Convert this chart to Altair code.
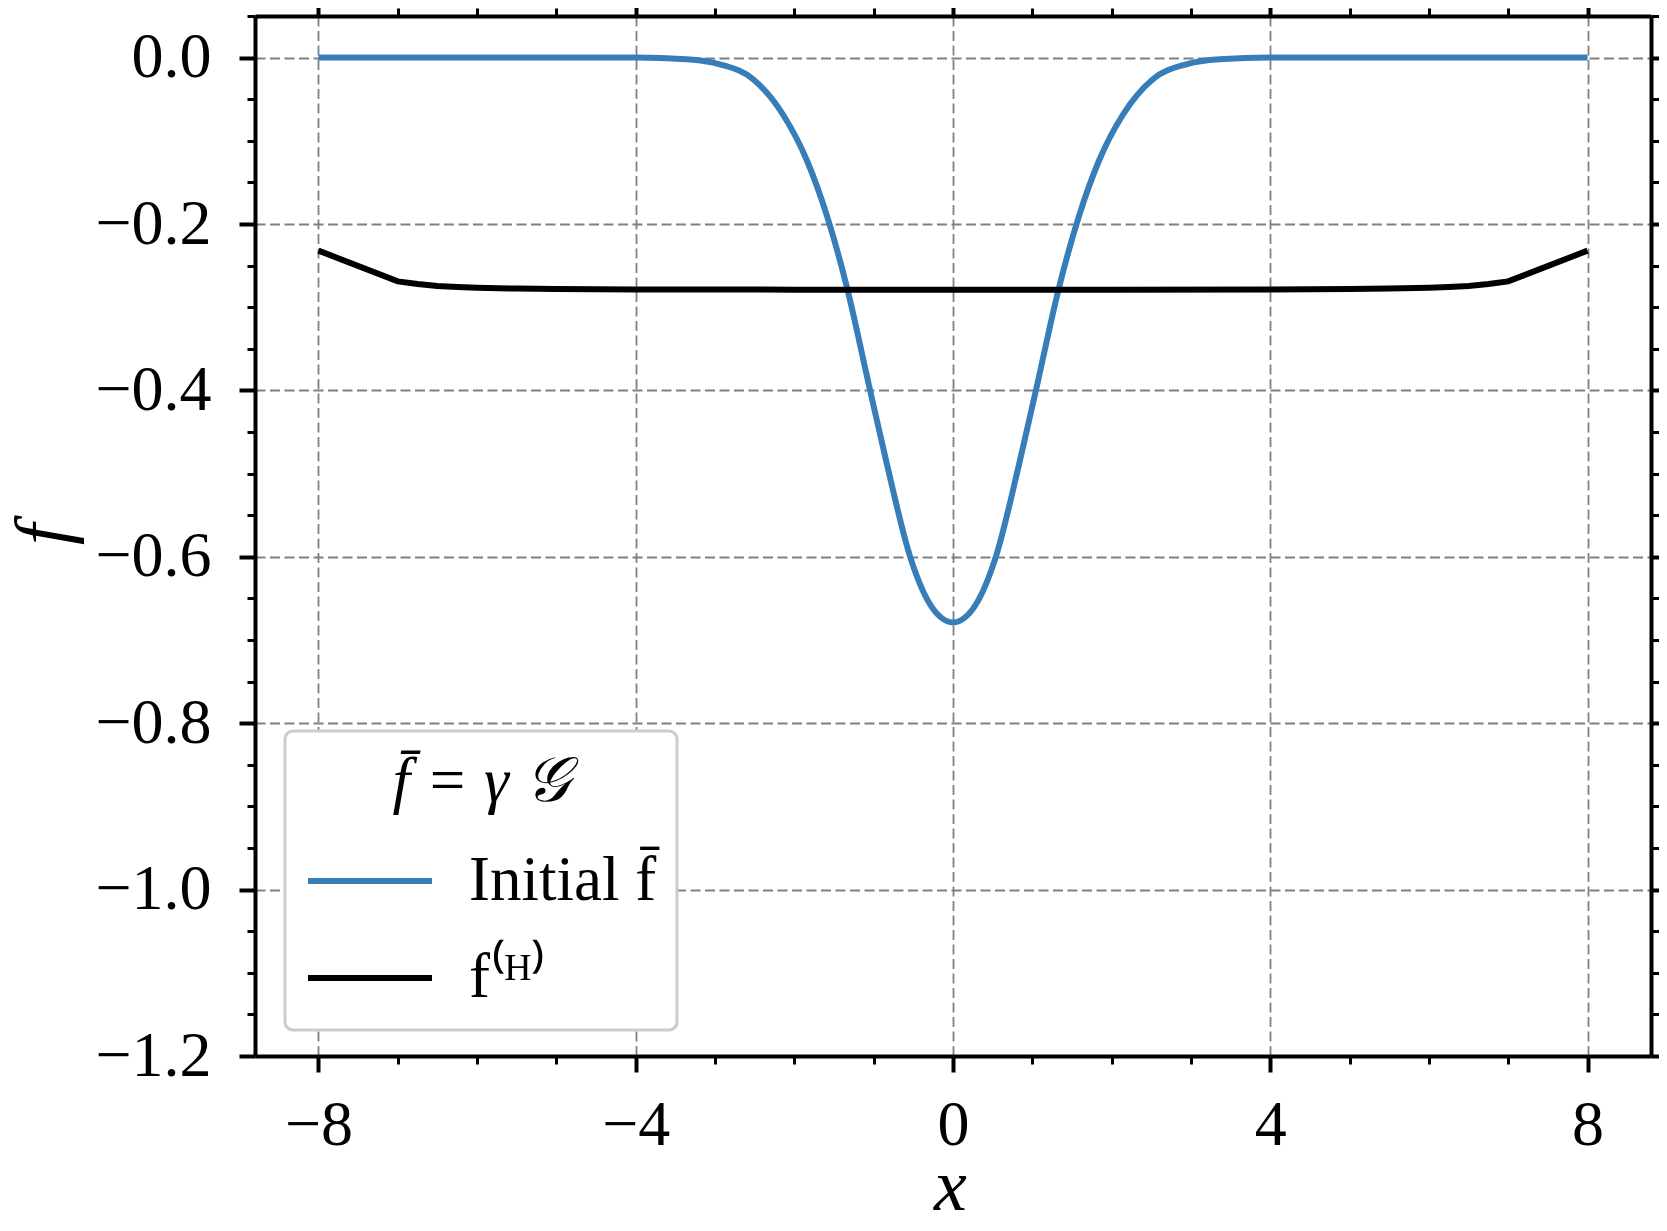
import altair as alt
import pandas as pd

# ---- data ----
label_blue = "Initial f\u0304"
label_black = "f\u207d\u1d34\u207e"
legend_title = "f\u0304 = \u03b3 \U0001D4A2"

blue_x = [-8.0, -4.0, -3.36, -2.94, -2.52, -2.14, -1.84, -1.59, -1.34, -1.045, -0.83,
          -0.54, -0.29, -0.15, 0.0, 0.15, 0.29, 0.54, 0.83, 1.045, 1.34, 1.59, 1.84,
          2.14, 2.52, 2.94, 3.36, 4.0, 8.0]
blue_y = [0.0, 0.0, -0.002, -0.008, -0.026, -0.069, -0.124, -0.19, -0.275, -0.40, -0.49,
          -0.60, -0.657, -0.673, -0.679, -0.673, -0.657, -0.60, -0.49, -0.40, -0.275, -0.19,
          -0.124, -0.069, -0.026, -0.008, -0.002, 0.0, 0.0]

black_x = [-8.0, -7.0, -6.75, -6.5, -6.25, -6.0, -5.5, -5.0, -4.0, -2.0, 0.0, 2.0, 4.0,
           5.0, 5.5, 6.0, 6.25, 6.5, 6.75, 7.0, 8.0]
black_y = [-0.232, -0.269, -0.2722, -0.2744, -0.2758, -0.2767, -0.2776, -0.2781, -0.2786,
           -0.2789, -0.279, -0.2789, -0.2786, -0.2781, -0.2776, -0.2767, -0.2758, -0.2744,
           -0.2722, -0.269, -0.232]

x_ticks = list(range(-8, 9))
y_ticks = [round(-1.2 + 0.05 * i, 2) for i in range(26)]

df_blue = pd.DataFrame({"x": blue_x, "y": blue_y, "series": label_blue})
df_black = pd.DataFrame({"x": black_x, "y": black_y, "series": label_black})

FONT = "Liberation Serif"
xscale = alt.Scale(domain=[-8.8, 8.8], nice=False, zero=False)
yscale = alt.Scale(domain=[-1.2, 0.05], nice=False, zero=False)

x_major = "datum.value % 4 === 0"
y_major = "abs(round(datum.value * 100)) % 20 === 0"


def x_axis(orient, show):
    kw = dict(
        orient=orient, values=x_ticks,
        tickSize={"condition": {"test": x_major, "value": 16}, "value": 8},
        tickWidth={"condition": {"test": x_major, "value": 4}, "value": 3},
    )
    if show:
        kw.update(
            labels=True, grid=True,
            labelExpr="datum.value % 4 === 0 ? datum.label : ''",
            gridOpacity={"condition": {"test": x_major, "value": 1}, "value": 0},
            labelFont=FONT, labelFontSize=64, labelPadding=21, format="d",
            title="x", titleFont=FONT, titleFontSize=74, titleFontStyle="italic",
            titleFontWeight="normal", titleX=695, titleY=153,
            titleBaseline="alphabetic", titleAlign="center",
        )
    else:
        kw.update(labels=False, grid=False, title=None)
    return alt.Axis(**kw)


def y_axis(orient, show):
    kw = dict(
        orient=orient, values=y_ticks,
        tickSize={"condition": {"test": y_major, "value": 16}, "value": 8},
        tickWidth={"condition": {"test": y_major, "value": 4}, "value": 3},
    )
    if show:
        kw.update(
            labels=True, grid=True,
            labelExpr="abs(round(datum.value * 100)) % 20 === 0 ? datum.label : ''",
            gridOpacity={"condition": {"test": y_major, "value": 1}, "value": 0},
            labelFont=FONT, labelFontSize=64, labelPadding=28, format=".1f",
            title="f", titleFont=FONT, titleFontSize=76, titleFontStyle="italic",
            titleFontWeight="normal", titleX=-188, titleY=518, titleAngle=270,
            titleBaseline="alphabetic", titleAlign="center",
        )
    else:
        kw.update(labels=False, grid=False, title=None)
    return alt.Axis(**kw)


color = alt.Color(
    "series:N",
    scale=alt.Scale(domain=[label_blue, label_black], range=["#377eb8", "#000000"]),
    legend=alt.Legend(
        title=legend_title, orient="none", legendX=30, legendY=715,
        symbolType="stroke", symbolSize=124 * 124, symbolStrokeWidth=6,
        labelFont=FONT, labelFontSize=63, labelColor="black", labelOffset=34,
        labelLimit=500,
        titleFont=FONT, titleFontSize=63, titleFontStyle="italic", titleFontWeight="normal",
        titleColor="black", titleAnchor="middle", titlePadding=2, titleLimit=500,
        padding=20, cornerRadius=8, strokeColor="#cccccc",
        fillColor="white", rowPadding=-5,
    ),
)

blue_line = alt.Chart(df_blue).mark_line(strokeWidth=6, interpolate="monotone").encode(
    x=alt.X("x:Q", scale=xscale, axis=x_axis("bottom", True)),
    y=alt.Y("y:Q", scale=yscale, axis=y_axis("left", True)),
    color=color,
)

black_line = alt.Chart(df_black).mark_line(strokeWidth=6).encode(
    x=alt.X("x:Q", scale=xscale, axis=None),
    y=alt.Y("y:Q", scale=yscale, axis=None),
    color=color,
)

frame = alt.Chart(df_blue).mark_line(strokeOpacity=0).encode(
    x=alt.X("x:Q", scale=xscale, axis=x_axis("top", False)),
    y=alt.Y("y:Q", scale=yscale, axis=y_axis("right", False)),
)

chart = (
    alt.layer(blue_line, black_line, frame)
    .resolve_axis(x="independent", y="independent")
    .properties(
        width=1396, height=1040,
        padding={"left": 247, "top": 8, "right": 8, "bottom": 160},
        autosize=alt.AutoSizeParams(type="none"),
        background="white",
    )
    .configure_view(stroke=None)
    .configure_legend(strokeWidth=3)
    .configure_axis(
        domainColor="black", domainWidth=4, tickColor="black",
        labelColor="black", titleColor="black",
        gridColor="#808080", gridDash=[10, 4.5], gridWidth=1.8,
    )
)

chart.save("out.html", embed_options={"renderer": "svg", "actions": False})
